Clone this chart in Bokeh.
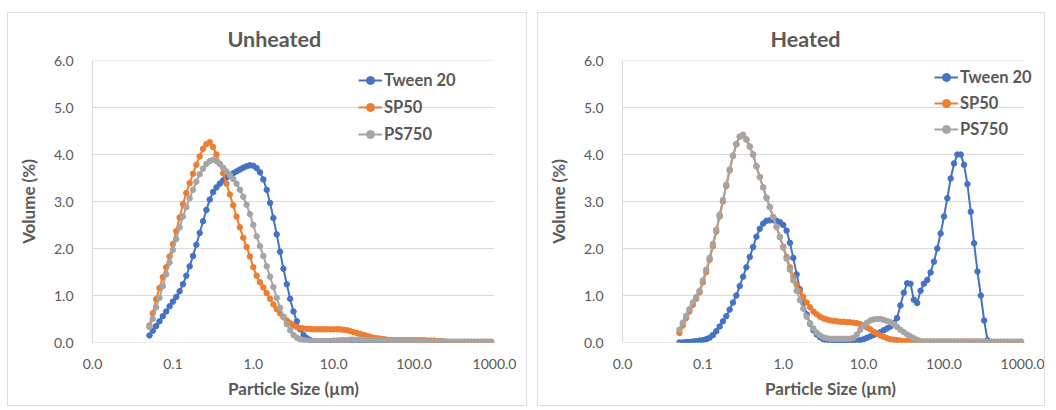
from bokeh.plotting import figure
from bokeh.layouts import row, column
from bokeh.models import (FixedTicker, Legend, LegendItem, Range1d, Spacer)
from bokeh.embed import file_html
from bokeh.resources import INLINE

# ---------------- data ----------------
size_um = [
    0.0511, 0.0562, 0.0619, 0.0681, 0.0750, 0.0825, 0.0909,
    0.1000, 0.1101, 0.1212, 0.1334, 0.1468, 0.1616, 0.1778, 0.1957, 0.2154, 0.2371, 0.2610, 0.2873,
    0.3162, 0.3481, 0.3831, 0.4217, 0.4642, 0.5109, 0.5623, 0.6190, 0.6813, 0.7499, 0.8254, 0.9085,
    1.000, 1.101, 1.212, 1.334, 1.468, 1.616, 1.778, 1.957, 2.154, 2.371, 2.610, 2.873,
    3.162, 3.481, 3.831, 4.217, 4.642, 5.109, 5.623, 6.190, 6.813, 7.499, 8.254, 9.085,
    10.00, 11.01, 12.12, 13.34, 14.68, 16.16, 17.78, 19.57, 21.54, 23.71, 26.10, 28.73,
    31.62, 34.81, 38.31, 42.17, 46.42, 51.09, 56.23, 61.90, 68.13, 74.99, 82.54, 90.85,
    100.0, 110.1, 121.2, 133.4, 146.8, 161.6, 177.8, 195.7, 215.4, 237.1, 261.0, 287.3,
    316.2, 348.1, 383.1, 421.7, 464.2, 510.9, 562.3, 619.0, 681.3, 749.9, 825.4, 908.5,
]

unheated_tween20 = [
    0.15, 0.25, 0.35, 0.45, 0.56, 0.66, 0.77, 0.87, 0.97, 1.09,
    1.24, 1.42, 1.62, 1.84, 2.08, 2.33, 2.58, 2.82, 3.04, 3.20,
    3.30, 3.38, 3.45, 3.51, 3.56, 3.60, 3.64, 3.68, 3.72, 3.75,
    3.77, 3.76, 3.71, 3.62, 3.47, 3.25, 2.97, 2.65, 2.30, 1.93,
    1.57, 1.24, 0.93, 0.66, 0.45, 0.28, 0.16, 0.09, 0.05, 0.03,
    0.02, 0.02, 0.02, 0.02, 0.02, 0.02, 0.02, 0.02, 0.02, 0.02,
    0.02, 0.02, 0.02, 0.02, 0.02, 0.02, 0.02, 0.02, 0.02, 0.02,
    0.02, 0.02, 0.02, 0.02, 0.02, 0.01, 0.01, 0.01, 0.01, 0.01,
    0.0, 0.0, 0.0, 0.0, 0.0, 0.0, 0.0, 0.0, 0.0, 0.0,
    0.0, 0.0, 0.0, 0.0, 0.0, 0.0, 0.0, 0.0, 0.0, 0.0,
    0.0, 0.0, 0.0,
]
unheated_sp50 = [
    0.36, 0.62, 0.92, 1.16, 1.39, 1.60, 1.83, 2.09, 2.37, 2.66,
    2.94, 3.18, 3.39, 3.59, 3.78, 3.96, 4.12, 4.22, 4.26, 4.16,
    4.00, 3.80, 3.60, 3.38, 3.15, 2.92, 2.68, 2.45, 2.23, 2.03,
    1.83, 1.60, 1.42, 1.28, 1.17, 1.05, 0.93, 0.81, 0.71, 0.62,
    0.54, 0.47, 0.41, 0.36, 0.33, 0.31, 0.30, 0.29, 0.29, 0.28,
    0.28, 0.28, 0.28, 0.28, 0.28, 0.28, 0.28, 0.28, 0.27, 0.26,
    0.24, 0.22, 0.20, 0.18, 0.16, 0.14, 0.12, 0.10, 0.09, 0.08,
    0.07, 0.06, 0.05, 0.05, 0.05, 0.05, 0.05, 0.05, 0.05, 0.05,
    0.05, 0.05, 0.05, 0.04, 0.04, 0.04, 0.03, 0.03, 0.02, 0.01,
    0.0, 0.0, 0.0, 0.0, 0.0, 0.0, 0.0, 0.0, 0.0, 0.0,
    0.0, 0.0, 0.0,
]
unheated_ps750 = [
    0.33, 0.50, 0.75, 0.95, 1.20, 1.45, 1.70, 1.97, 2.20, 2.45,
    2.68, 2.88, 3.07, 3.25, 3.42, 3.58, 3.70, 3.80, 3.86, 3.89,
    3.86, 3.80, 3.72, 3.64, 3.56, 3.48, 3.38, 3.25, 3.10, 2.93,
    2.73, 2.50, 2.26, 2.05, 1.84, 1.62, 1.40, 1.18, 0.95, 0.74,
    0.55, 0.39, 0.26, 0.16, 0.10, 0.07, 0.05, 0.04, 0.03, 0.03,
    0.03, 0.03, 0.03, 0.03, 0.03, 0.04, 0.04, 0.05, 0.05, 0.05,
    0.06, 0.06, 0.06, 0.06, 0.06, 0.05, 0.05, 0.05, 0.04, 0.04,
    0.03, 0.03, 0.03, 0.03, 0.03, 0.03, 0.03, 0.03, 0.03, 0.03,
    0.02, 0.02, 0.02, 0.02, 0.02, 0.02, 0.02, 0.02, 0.02, 0.02,
    0.02, 0.02, 0.02, 0.02, 0.02, 0.02, 0.02, 0.02, 0.02, 0.02,
    0.02, 0.02, 0.02,
]

heated_tween20 = [
    0.00, 0.00, 0.01, 0.01, 0.02, 0.03, 0.04, 0.05, 0.07, 0.10,
    0.16, 0.24, 0.34, 0.45, 0.56, 0.70, 0.85, 1.00, 1.20, 1.40,
    1.60, 1.82, 2.03, 2.25, 2.42, 2.53, 2.59, 2.60, 2.60, 2.59,
    2.56, 2.50, 2.38, 2.12, 1.80, 1.45, 1.13, 0.84, 0.60, 0.40,
    0.26, 0.17, 0.11, 0.07, 0.04, 0.02, 0.01, 0.01, 0.01, 0.01,
    0.01, 0.01, 0.02, 0.03, 0.05, 0.07, 0.10, 0.13, 0.16, 0.19,
    0.22, 0.26, 0.30, 0.34, 0.42, 0.52, 0.79, 1.06, 1.26, 1.25,
    0.91, 0.84, 1.10, 1.25, 1.33, 1.49, 1.72, 2.00, 2.32, 2.68,
    3.07, 3.49, 3.81, 4.00, 4.00, 3.78, 3.37, 2.78, 2.11, 1.51,
    1.00, 0.47, 0.05, 0.0, 0.0, 0.0, 0.0, 0.0, 0.0, 0.0,
    0.0, 0.0, 0.0,
]
heated_sp50 = [
    0.20, 0.36, 0.52, 0.66, 0.80, 0.93, 1.07, 1.28, 1.50, 1.76,
    2.05, 2.36, 2.68, 3.00, 3.33, 3.66, 3.97, 4.22, 4.38, 4.42,
    4.32, 4.17, 4.00, 3.75, 3.52, 3.30, 3.08, 2.88, 2.67, 2.46,
    2.25, 2.04, 1.82, 1.60, 1.40, 1.23, 1.09, 0.97, 0.85, 0.75,
    0.66, 0.60, 0.55, 0.51, 0.49, 0.47, 0.46, 0.45, 0.44, 0.44,
    0.43, 0.43, 0.42, 0.41, 0.39, 0.36, 0.32, 0.28, 0.23, 0.19,
    0.15, 0.12, 0.09, 0.07, 0.06, 0.05, 0.04, 0.03, 0.03, 0.03,
    0.03, 0.03, 0.02, 0.02, 0.02, 0.02, 0.02, 0.02, 0.02, 0.02,
    0.02, 0.02, 0.02, 0.02, 0.02, 0.02, 0.02, 0.02, 0.02, 0.02,
    0.02, 0.0, 0.0, 0.0, 0.0, 0.0, 0.0, 0.0, 0.0, 0.0,
    0.0, 0.0, 0.0,
]
heated_ps750 = [
    0.27, 0.42, 0.57, 0.71, 0.85, 0.97, 1.10, 1.32, 1.55, 1.80,
    2.10, 2.40, 2.72, 3.03, 3.36, 3.68, 3.98, 4.22, 4.38, 4.41,
    4.32, 4.17, 4.00, 3.75, 3.52, 3.30, 3.08, 2.88, 2.67, 2.46,
    2.24, 2.02, 1.78, 1.55, 1.32, 1.10, 0.90, 0.72, 0.55, 0.41,
    0.30, 0.21, 0.15, 0.11, 0.09, 0.08, 0.08, 0.08, 0.08, 0.08,
    0.08, 0.08, 0.10, 0.17, 0.27, 0.36, 0.42, 0.47, 0.49, 0.50,
    0.50, 0.48, 0.46, 0.43, 0.39, 0.33, 0.27, 0.22, 0.17, 0.13,
    0.09, 0.06, 0.03, 0.02, 0.02, 0.02, 0.02, 0.02, 0.02, 0.02,
    0.02, 0.02, 0.02, 0.02, 0.02, 0.02, 0.02, 0.02, 0.02, 0.02,
    0.02, 0.02, 0.02, 0.02, 0.02, 0.02, 0.02, 0.02, 0.02, 0.02,
    0.02, 0.02, 0.02,
]

series_names = ["Tween 20", "SP50", "PS750"]
series_colors = ["#4472C4", "#ED7D31", "#A5A5A5"]
x_ticks = [0.01, 0.1, 1.0, 10.0, 100.0, 1000.0]
x_tick_labels = ["0.0", "0.1", "1.0", "10.0", "100.0", "1000.0"]
y_ticks = [0, 1, 2, 3, 4, 5, 6]
y_tick_labels = ["0.0", "1.0", "2.0", "3.0", "4.0", "5.0", "6.0"]

for s in (unheated_tween20, unheated_sp50, unheated_ps750,
          heated_tween20, heated_sp50, heated_ps750):
    assert len(s) == len(size_um), len(s)

TXT = "#595959"
GRID = "#d9d9d9"
FONT = "Lato"


def make_panel(title, ys, width, min_right, x_end, title_offset, leg_loc, leg_spacing):
    p = figure(width=width, height=394, x_axis_type="log",
               x_range=Range1d(x_ticks[0], x_end), y_range=Range1d(y_ticks[0], y_ticks[-1]),
               output_backend="svg", toolbar_location=None,
               min_border_left=84, min_border_right=min_right,
               min_border_top=47, min_border_bottom=65)
    p.styles = {"border": "1px solid #dedede"}
    p.outline_line_color = None
    p.background_fill_color = "white"
    p.border_fill_color = "white"

    p.title.text = title
    p.title.align = "left"
    p.title.offset = title_offset
    p.title.standoff = 14
    p.title.vertical_align = "top"
    p.title.text_font = FONT
    p.title.text_font_size = "21.5px"
    p.title.text_font_style = "bold"
    p.title.text_color = TXT

    # horizontal gridlines (and the x axis line), ending at the last x tick
    p.xgrid.visible = False
    p.ygrid.visible = False
    p.segment(x0=[x_ticks[0]] * len(y_ticks), x1=[x_ticks[-1]] * len(y_ticks),
              y0=y_ticks, y1=y_ticks, line_color=GRID, line_width=1)

    p.xaxis.ticker = FixedTicker(ticks=x_ticks)
    p.xaxis.major_label_overrides = dict(zip(x_ticks, x_tick_labels))
    p.yaxis.ticker = FixedTicker(ticks=y_ticks)
    p.yaxis.major_label_overrides = dict(zip(y_ticks, y_tick_labels))

    for ax in (p.xaxis, p.yaxis):
        ax.major_tick_line_color = None
        ax.minor_tick_line_color = None
        ax.major_label_text_font = FONT
        ax.major_label_text_font_size = "14px"
        ax.major_label_text_color = TXT
        ax.axis_label_text_font = FONT
        ax.axis_label_text_font_size = "17px"
        ax.axis_label_text_font_style = "bold"
        ax.axis_label_text_color = TXT
    p.xaxis.axis_line_color = None
    p.yaxis.axis_line_color = GRID
    p.xaxis.axis_label = "Particle Size (\u00b5m)"
    p.yaxis.axis_label = "Volume (%)"
    p.xaxis.major_label_standoff = 10
    p.xaxis.axis_label_standoff = 6
    p.yaxis.major_label_standoff = 13
    p.yaxis.axis_label_standoff = 12

    items = []
    for name, color, y in zip(series_names, series_colors, ys):
        lr = p.line(size_um, y, line_color=color, line_width=2)
        sr = p.scatter(size_um, y, size=5.5, marker="circle",
                       fill_color=color, line_color=color)
        items.append(LegendItem(label=name, renderers=[lr, sr]))

    leg = Legend(items=items, location=leg_loc, orientation="vertical",
                 glyph_width=24, glyph_height=20, label_height=20,
                 spacing=leg_spacing, padding=0, margin=0, label_standoff=2,
                 border_line_color=None, background_fill_alpha=0,
                 label_text_font=FONT, label_text_font_style="bold",
                 label_text_font_size="16.5px", label_text_color=TXT)
    p.add_layout(leg)
    return p


p1 = make_panel("Unheated", [unheated_tween20, unheated_sp50, unheated_ps750],
                520, 34, 1000.0, 135, (266, 198), 7)
p2 = make_panel("Heated", [heated_tween20, heated_sp50, heated_ps750],
                508, 8, 1500.0, 148, (312, 203), 6)

layout = column(Spacer(height=12),
                row(Spacer(width=7), p1, Spacer(width=10), p2))

open("out.html", "w").write(file_html(layout, INLINE))
